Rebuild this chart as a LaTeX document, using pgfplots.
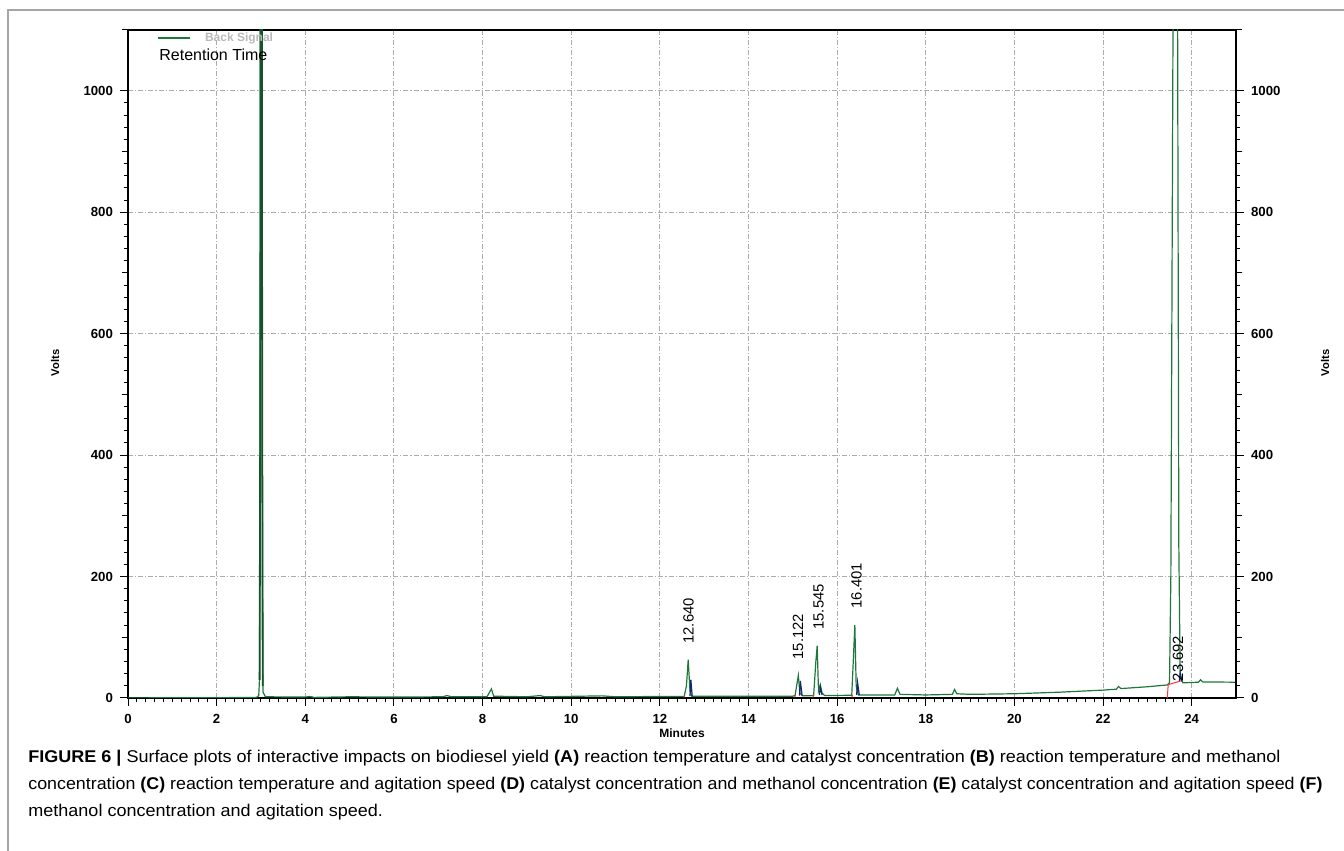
\documentclass[border=0pt]{standalone}
\usepackage{fontspec}
\setmainfont{Liberation Sans}
\usepackage{graphicx}
\usepackage{pgfplots}
\pgfplotsset{compat=1.18}
\definecolor{sig}{RGB}{30,120,60}
\definecolor{blu}{RGB}{20,40,110}
\newlength\Lone
\begin{document}
\settowidth\Lone{\fontsize{8.5}{10}\selectfont\textbf{FIGURE 6 |} Surface plots of interactive impacts on biodiesel yield \textbf{(A)} reaction temperature and catalyst concentration \textbf{(B)} reaction temperature and methanol}%
\pgfmathsetmacro\capfac{626/\Lone}%
\begin{tikzpicture}
\useasboundingbox (0,0) rectangle (672pt,425.5pt);
\draw[gray!70,line width=0.6pt] (4pt,0) -- (4pt,420.5pt) -- (672pt,420.5pt);
\begin{axis}[at={(64pt,76.5pt)}, anchor=south west, width=554pt, height=334pt, scale only axis,
  xmin=0, xmax=25, ymin=0, ymax=1100,
  xtick={0,2,...,24}, ytick={0,200,...,1000},
  minor x tick num=9, minor y tick num=9,
  extra y ticks={100,300,500,700,900,1100}, extra y tick labels={},
  extra y tick style={grid=none, major tick length=3.2pt},
  tick align=outside, xtick pos=bottom, ytick pos=left,
  major tick length=4pt, minor tick length=2pt,
  tick style={black, line width=0.5pt},
  grid=major, major grid style={gray!65, line width=0.45pt, dash pattern=on 2.5pt off 1pt on 0.6pt off 1pt},
  axis line style={black, line width=0.7pt},
  ticklabel style={font=\fontsize{6.6}{7}\selectfont\bfseries},
  xticklabel style={yshift=-0.8pt},
  /pgf/number format/assume math mode=true, /pgf/number format/1000 sep={},
  scaled ticks=false, clip=true]
\addplot[sig, line width=0.6pt] coordinates {
(0,0) (1,0.5) (2,0.5) (2.9,1) (2.95,4) (2.965,28) (2.978,300) (2.99,1500) (3.02,1500) (3.032,300) (3.045,10) (3.1,2)
(4,1.5) (4.1,2.5) (4.2,1) (5,2) (6,1.5) (7.1,2) (7.2,4) (7.3,2) (8.1,2) (8.2,15) (8.25,3) (9,2) (9.3,4) (9.4,2)
(10.7,3.5) (11,2) (12,2.5) (12.55,2.5) (12.60,20) (12.64,63) (12.68,12) (12.72,3) (13,3) (14,3) (15,3)
(15.05,4) (15.10,26) (15.125,37) (15.16,8) (15.22,3.5) (15.47,4) (15.52,60) (15.55,86) (15.58,12) (15.62,22) (15.66,8) (15.72,4)
(16.33,4.5) (16.37,70) (16.40,120) (16.43,20) (16.48,5) (17.0,5) (17.3,5) (17.36,16) (17.42,6) (18,5) (18.6,6) (18.65,14) (18.7,7)
(19,6) (20,7) (21,9.5) (22,13) (22.3,14.5) (22.35,19) (22.4,15.5) (23,18.5) (23.45,21.5) (23.5,25) (23.53,200) (23.6,1500) (23.67,1500)
(23.71,250) (23.74,40) (23.8,25) (24,25.5) (24.15,26) (24.2,30) (24.25,26.5) (25,26)
};
\addplot[sig!70!black, line width=0.9pt] coordinates {(2.97,30) (2.985,500) (2.995,1500)};
\addplot[sig!70!black, line width=0.9pt] coordinates {(3.015,1500) (3.028,500) (3.04,20)};
\addplot[blu, line width=0.6pt] coordinates {(12.68,3) (12.70,30) (12.73,3)};
\addplot[blu, line width=0.6pt] coordinates {(15.15,4) (15.17,28) (15.21,4)};
\addplot[blu, line width=0.6pt] coordinates {(15.60,5) (15.62,18) (15.66,5)};
\addplot[blu, line width=0.6pt] coordinates {(16.44,5) (16.46,26) (16.50,5)};
\addplot[blu, line width=0.6pt] coordinates {(23.72,27) (23.74,42) (23.77,27)};
\addplot[red!80, line width=0.5pt] coordinates {(23.45,0) (23.47,22) (23.75,28)};
\addplot[red!80, line width=0.5pt] coordinates {(12.54,1) (12.56,4)};
\addplot[red!80, line width=0.5pt] coordinates {(15.04,1) (15.06,5)};
\addplot[red!80, line width=0.5pt] coordinates {(15.45,1) (15.47,5)};
\addplot[red!80, line width=0.5pt] coordinates {(16.33,1) (16.35,5)};
\node[rotate=90, font=\fontsize{7.4}{8}\selectfont] at (axis cs:12.65,127) {12.640};
\node[rotate=90, font=\fontsize{7.4}{8}\selectfont] at (axis cs:15.12,101) {15.122};
\node[rotate=90, font=\fontsize{7.4}{8}\selectfont] at (axis cs:15.58,150) {15.545};
\node[rotate=90, font=\fontsize{7.4}{8}\selectfont] at (axis cs:16.44,185) {16.401};
\node[rotate=90, font=\fontsize{7.4}{8}\selectfont] at (axis cs:23.69,65) {23.692};
\end{axis}
\begin{axis}[at={(64pt,76.5pt)}, anchor=south west, width=554pt, height=334pt, scale only axis,
  xmin=0, xmax=25, ymin=0, ymax=1100, hide x axis, axis y line*=right,
  ytick={0,200,...,1000}, minor y tick num=9,
  extra y ticks={100,300,500,700,900,1100}, extra y tick labels={},
  extra y tick style={major tick length=3.2pt},
  tick align=outside, major tick length=4pt, minor tick length=2pt,
  tick style={black, line width=0.5pt},
  axis line style={black, line width=0.7pt},
  ticklabel style={font=\fontsize{6.6}{7}\selectfont\bfseries},
  /pgf/number format/assume math mode=true, /pgf/number format/1000 sep={}]
\addplot[draw=none] coordinates {(0,0)};
\end{axis}
% legend
\draw[sig, line width=0.6pt] (79pt,406.5pt) -- (95pt,406.5pt);
\node[anchor=west, text=gray!55, font=\fontsize{6}{7}\selectfont\bfseries] at (99pt,406.5pt) {Back Signal};
\node[anchor=west, font=\fontsize{8}{9}\selectfont, inner sep=0pt] at (79.5pt,398pt) {Retention Time};
% axis labels
\node[rotate=90, font=\fontsize{5.6}{6}\selectfont\bfseries] at (27.5pt,244pt) {Volts};
\node[rotate=90, font=\fontsize{5.6}{6}\selectfont\bfseries] at (662.5pt,244pt) {Volts};
\node[font=\fontsize{6}{7}\selectfont\bfseries] at (341pt,59pt) {Minutes};
% caption
\node[anchor=base west, inner sep=0pt, font=\fontsize{8.5}{10}\selectfont] at (14pt,44pt) {\scalebox{\capfac}[1]{\textbf{FIGURE 6 |} Surface plots of interactive impacts on biodiesel yield \textbf{(A)} reaction temperature and catalyst concentration \textbf{(B)} reaction temperature and methanol}};
\node[anchor=base west, inner sep=0pt, font=\fontsize{8.5}{10}\selectfont] at (14pt,30.5pt) {\resizebox{647pt}{\height}{concentration \textbf{(C)} reaction temperature and agitation speed \textbf{(D)} catalyst concentration and methanol concentration \textbf{(E)} catalyst concentration and agitation speed \textbf{(F)}}};
\node[anchor=base west, inner sep=0pt, font=\fontsize{8.5}{10}\selectfont] at (14pt,17pt) {\scalebox{\capfac}[1]{methanol concentration and agitation speed.}};
\end{tikzpicture}
\end{document}
